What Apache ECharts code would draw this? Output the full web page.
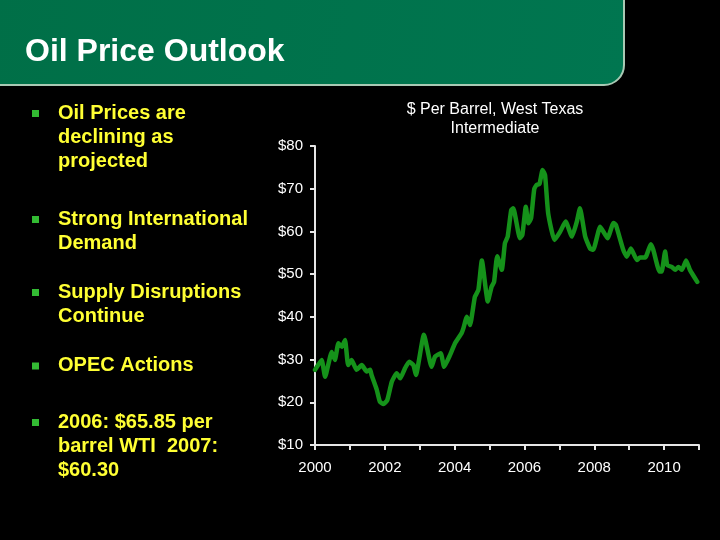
<!DOCTYPE html>
<html>
<head>
<meta charset="utf-8">
<title>Oil Price Outlook</title>
<script src="https://cdn.jsdelivr.net/npm/echarts@6/dist/echarts.min.js"></script>
<style>
  html, body { margin: 0; padding: 0; background: #000; }
  #main { width: 720px; height: 540px; }
</style>
</head>
<body>
<div id="main"></div>
<script>
// WTI price (decimal year, $ per barrel)
var years = [
  2000.00, 2000.19, 2000.29, 2000.48, 2000.57, 2000.67, 2000.77, 2000.86, 2000.95,
  2001.05, 2001.19, 2001.34, 2001.48, 2001.58, 2001.62, 2001.77, 2001.86, 2001.96,
  2002.07, 2002.20, 2002.34, 2002.44, 2002.58, 2002.70, 2002.82, 2002.89,
  2003.12, 2003.34, 2003.44, 2003.60, 2003.70, 2003.87,
  2004.01, 2004.20, 2004.25, 2004.35, 2004.44, 2004.58, 2004.68, 2004.78, 2004.95,
  2005.06, 2005.13, 2005.22, 2005.35, 2005.44, 2005.52, 2005.62, 2005.68, 2005.87, 2005.94,
  2006.04, 2006.11, 2006.19, 2006.28, 2006.35, 2006.43, 2006.52, 2006.59, 2006.68, 2006.86,
  2007.02, 2007.18, 2007.36, 2007.50, 2007.59, 2007.74, 2007.88, 2007.97,
  2008.17, 2008.38, 2008.55, 2008.62, 2008.83, 2008.93,
  2009.05, 2009.22, 2009.31, 2009.46, 2009.62, 2009.69, 2009.87, 2009.93,
  2010.03, 2010.09, 2010.22, 2010.32, 2010.41, 2010.51, 2010.63, 2010.74, 2010.95
];
var prices = [
  27.6, 29.9, 26.0, 31.8, 29.9, 33.8, 33.0, 34.6, 28.7,
  29.9, 27.6, 28.7, 27.2, 27.6, 26.4, 22.9, 20.1, 19.6,
  20.5, 24.8, 26.8, 25.6, 28.0, 29.5, 28.7, 26.4,
  35.8, 28.3, 30.7, 31.5, 28.3, 31.1,
  33.8, 36.2, 37.3, 40.0, 38.1, 44.7, 46.3, 53.2, 43.6,
  47.1, 48.2, 54.2, 51.0, 57.2, 58.8, 65.0, 65.4, 58.4, 59.2,
  65.8, 61.9, 63.1, 69.9, 70.9, 71.1, 74.4, 73.2, 64.2, 58.0,
  59.9, 62.3, 58.8, 62.3, 65.4, 58.8, 56.0, 55.7,
  61.1, 58.4, 62.0, 61.5, 55.7, 54.1,
  56.0, 53.3, 53.9, 53.9, 57.0, 55.7, 50.6, 50.6,
  55.3, 52.1, 51.7, 51.0, 51.7, 51.0, 53.2, 51.0, 48.2
];

var slideTitle = 'Oil Price Outlook';
var chartTitle = '$ Per Barrel, West Texas\nIntermediate';
var bullets = [
  'Oil Prices are\ndeclining as\nprojected',
  'Strong International\nDemand',
  'Supply Disruptions\nContinue',
  'OPEC Actions',
  '2006: $65.85 per\nbarrel WTI  2007:\n$60.30'
];

var FONT = '"Liberation Sans", Arial, sans-serif';
var bulletTops = [101, 207, 280, 353.5, 410];

var graphics = [
  {
    type: 'rect',
    shape: { x: -4, y: -20, width: 628, height: 105, r: [0, 0, 20, 0] },
    style: {
      fill: new echarts.graphic.LinearGradient(0, 0, 1, 1, [
        { offset: 0, color: '#006f47' },
        { offset: 1, color: '#007650' }
      ]),
      stroke: '#a9c9b4',
      lineWidth: 2
    }
  },
  {
    type: 'text',
    style: {
      text: slideTitle, x: 25, y: 52, verticalAlign: 'middle',
      font: 'bold 32px ' + FONT, fill: '#ffffff'
    }
  },
  {
    type: 'text',
    style: {
      text: chartTitle, x: 495, y: 100.5, align: 'center', verticalAlign: 'top',
      font: '16px ' + FONT, lineHeight: 19, fill: '#ffffff'
    }
  }
];

bullets.forEach(function (txt, i) {
  graphics.push({
    type: 'rect',
    shape: { x: 32, y: bulletTops[i] + 9, width: 7, height: 7 },
    style: { fill: '#33bb33' }
  });
  graphics.push({
    type: 'text',
    style: {
      text: txt, x: 58, y: bulletTops[i], verticalAlign: 'top',
      font: 'bold 20px ' + FONT, lineHeight: 24, fill: '#ffff33'
    }
  });
});

var chart = echarts.init(document.getElementById('main'));
chart.setOption({
  backgroundColor: '#000000',
  animation: false,
  graphic: graphics,
  grid: { left: 315, right: 21, top: 146, bottom: 95 },
  xAxis: {
    type: 'value',
    min: 2000,
    max: 2011,
    interval: 1,
    axisLine: { lineStyle: { color: '#e6e6e6', width: 2 } },
    axisTick: { length: 5, lineStyle: { color: '#e6e6e6', width: 2 } },
    axisLabel: {
      color: '#ffffff', fontSize: 15, fontFamily: FONT, margin: 15,
      formatter: function (v) { return v % 2 === 0 ? String(v) : ''; }
    },
    splitLine: { show: false }
  },
  yAxis: {
    type: 'value',
    min: 10,
    max: 80,
    interval: 10,
    axisLine: { show: true, lineStyle: { color: '#e6e6e6', width: 2 } },
    axisTick: { show: true, length: 5, lineStyle: { color: '#e6e6e6', width: 2 } },
    axisLabel: {
      color: '#ffffff', fontSize: 15, fontFamily: FONT, margin: 12,
      formatter: function (v) { return '$' + v; }
    },
    splitLine: { show: false }
  },
  series: [{
    type: 'line',
    data: years.map(function (y, i) { return [y, prices[i]]; }),
    showSymbol: false,
    smooth: 0.15,
    lineStyle: { color: '#15921a', width: 4.5, cap: 'round', join: 'round' }
  }]
});
</script>
</body>
</html>
